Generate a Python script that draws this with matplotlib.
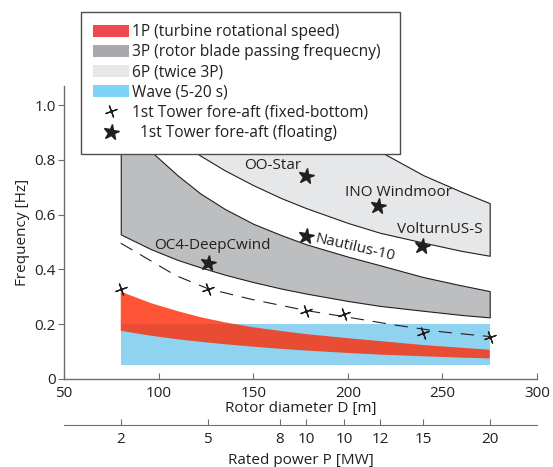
import numpy as np
import matplotlib.pyplot as plt
from matplotlib.patches import Patch
from matplotlib.lines import Line2D
from matplotlib.markers import MarkerStyle
from matplotlib.transforms import Affine2D

plt.rcParams['font.family'] = ['Open Sans', 'DejaVu Sans']
plt.rcParams['font.size'] = 10

# 1P range (rotor speed) against rotor diameter
rotor_d = [80, 96, 110, 122, 135, 150, 165, 178, 200, 217, 240, 260, 275]
f1p_max = [0.319, 0.277, 0.248, 0.226, 0.207, 0.189, 0.175, 0.164, 0.149, 0.1385, 0.124, 0.114, 0.107]
f1p_min = [0.176, 0.158, 0.145, 0.136, 0.127, 0.118, 0.110, 0.104, 0.095, 0.089, 0.083, 0.078, 0.075]

# wave band 5-20 s
wave_d = [80, 275]
wave_min = [0.05, 0.05]
wave_max = [0.2, 0.2]

# fixed-bottom towers and trend
fixed_d = [80, 126, 178, 198, 240, 275]
fixed_f = [0.328, 0.328, 0.25, 0.236, 0.167, 0.155]
trend_d = [80, 98, 109, 126, 149, 178, 198, 225, 250, 275]
trend_f = [0.496, 0.423, 0.378, 0.33, 0.291, 0.25, 0.228, 0.197, 0.172, 0.155]

# floating concepts
float_names = ['OC4-DeepCwind', 'OO-Star', 'Nautilus-10', 'INO Windmoor', 'VolturnUS-S']
float_d = [126, 178, 178, 216, 239]
float_f = [0.425, 0.74, 0.524, 0.633, 0.484]

# rated power axis
power_d = [80, 126, 164, 178, 198, 217, 240, 275]
power_labels = ['2', '5', '8', '10', '10', '12', '15', '20']

rotor_d = np.array(rotor_d)
f1p_max = np.array(f1p_max)
f1p_min = np.array(f1p_min)

ink = '#231F20'
axcol = '#6D6E71'

fig = plt.figure(figsize=(5.53, 4.67), dpi=100)
ax = fig.add_axes([64 / 553, 1 - 379 / 467, 473 / 553, 293 / 467])

ax.fill_between(rotor_d, 6 * f1p_min, 6 * f1p_max, facecolor='#E6E7E8',
                edgecolor=ink, lw=0.8, zorder=1)
ax.fill_between(rotor_d, 3 * f1p_min, 3 * f1p_max, facecolor='#BCBEC0',
                edgecolor=ink, lw=0.8, zorder=2)
ax.fill_between(wave_d, wave_min, wave_max, facecolor='#8FD3F0', lw=0, zorder=3)
ax.fill_between(rotor_d, f1p_min, f1p_max, facecolor='#FF2A04', alpha=0.8,
                lw=0, zorder=4)

ax.plot(trend_d, trend_f, color=ink, lw=0.8, ls=(0, (12, 8)), zorder=5)
cross = MarkerStyle((4, 2, 20))
ax.plot(fixed_d, fixed_f, ls='none', marker=cross, ms=9, mew=0.9,
        color=ink, zorder=6)
star = MarkerStyle('*', transform=Affine2D().rotate_deg(-8))
ax.plot(float_d, float_f, ls='none', marker=star, ms=11.5, color=ink,
        mec=ink, zorder=6)

offsets = {'OC4-DeepCwind': (3, 12, 0), 'OO-Star': (-24, 8, 0),
           'Nautilus-10': (35, -8.5, -13), 'INO Windmoor': (15, 9.6, 0),
           'VolturnUS-S': (13, 12, 0)}
for name, d, f in zip(float_names, float_d, float_f):
    dx, dy, rot = offsets[name]
    ax.annotate(name, (d, f), xytext=(dx, dy), textcoords='offset points',
                ha='center', va='center', rotation=rot, fontsize=11,
                color=ink, zorder=7)

ax.set_xlim(50, 300)
ax.set_ylim(0, 1.07)
ax.set_xticks([50, 100, 150, 200, 250, 300])
ax.set_yticks([0, 0.2, 0.4, 0.6, 0.8, 1.0])
ax.set_yticklabels(['0', '0.2', '0.4', '0.6', '0.8', '1.0'])
for s in ['top', 'right']:
    ax.spines[s].set_visible(False)
for s in ['left', 'bottom']:
    ax.spines[s].set_color(axcol)
    ax.spines[s].set_linewidth(1.0)
ax.tick_params(axis='x', direction='in', length=4, color=axcol, pad=5,
               labelsize=11, labelcolor=ink)
ax.tick_params(axis='y', direction='out', length=4, color=axcol, pad=2,
               labelsize=11, labelcolor=ink)
ax.set_xlabel('Rotor diameter D [m]', fontsize=11, color=ink, labelpad=0)
ax.set_ylabel('Frequency [Hz]', fontsize=11, color=ink, labelpad=3)

sec = ax.secondary_xaxis(-0.157)
sec.set_xticks(power_d, labels=power_labels)
sec.spines['bottom'].set_color(axcol)
sec.tick_params(direction='in', length=4, color=axcol, pad=5,
                labelsize=11, labelcolor=ink)
sec.set_xlabel('Rated power P [MW]', fontsize=11, color=ink, labelpad=4)

handles = [
    Patch(facecolor='#EF4850', edgecolor='none'),
    Patch(facecolor='#A7A9AC', edgecolor='none'),
    Patch(facecolor='#E6E7E8', edgecolor='none'),
    Patch(facecolor='#7DD3F6', edgecolor='none'),
    Line2D([], [], ls='none', marker=cross, ms=9, mew=0.9, color=ink),
    Line2D([], [], ls='none', marker=star, ms=11.5, color=ink),
]
labels = ['1P (turbine rotational speed)', '3P (rotor blade passing frequecny)',
          '6P (twice 3P)', 'Wave (5-20 s)', '1st Tower fore-aft (fixed-bottom)',
          '  1st Tower fore-aft (floating)']
leg = fig.legend(handles, labels, loc='upper left', mode='expand',
                 bbox_to_anchor=(81 / 553, 1 - 152 / 467, 319 / 553, 140.3 / 467),
                 bbox_transform=fig.transFigure, borderaxespad=0,
                 fancybox=False, framealpha=1, edgecolor='#4D4D4F',
                 handlelength=2.3, handleheight=0.78, handletextpad=0.15,
                 labelspacing=0.27, borderpad=0.8, fontsize=11.2)
leg.get_frame().set_linewidth(1.0)
leg.set_zorder(10)
for t in leg.get_texts():
    t.set_color(ink)

fig.savefig('out.png', dpi=100)
